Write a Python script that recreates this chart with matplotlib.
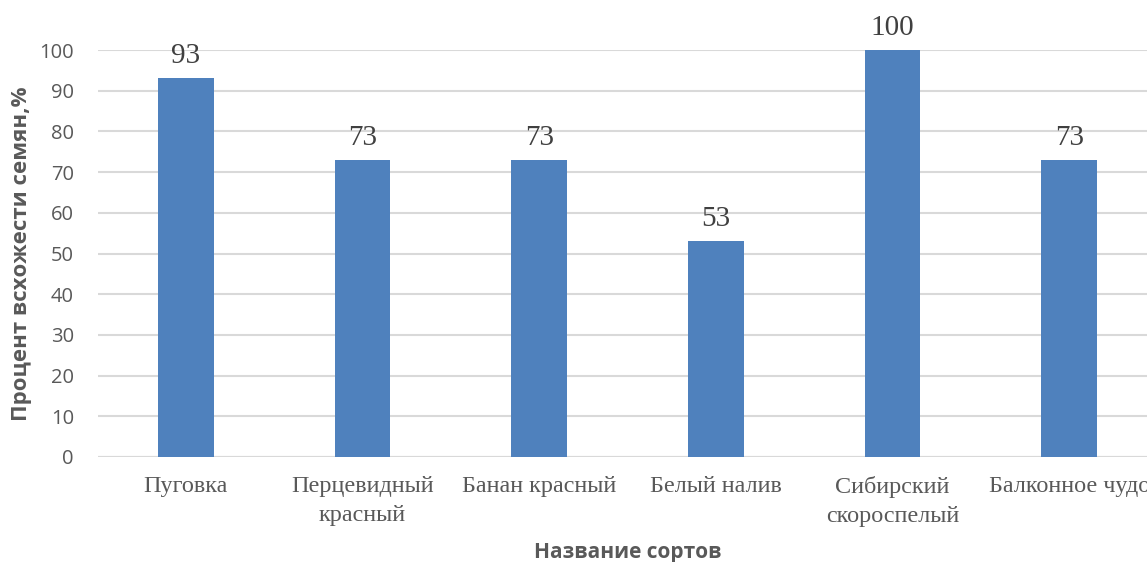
import matplotlib.pyplot as plt
import numpy as np

varieties = ['Пуговка', 'Перцевидный\nкрасный', 'Банан красный', 'Белый налив',
             'Сибирский\nскороспелый', 'Балконное чудо']
germination = [93, 73, 73, 53, 100, 73]
yticks = [0, 10, 20, 30, 40, 50, 60, 70, 80, 90, 100]

bar_color = '#4f81bd'
grid_color = '#d9d9d9'
text_gray = '#595959'

fig = plt.figure(figsize=(11.47, 5.62), dpi=100)
# plot area runs a little past the right edge of the figure
ax = fig.add_axes([97.5 / 1147, 105 / 562, 1060 / 1147, 407 / 562])

x = np.arange(len(varieties))
ax.bar(x, germination, width=0.316, color=bar_color, zorder=3)

for xi, v in zip(x, germination):
    ax.text(xi, v + 2.3, str(v), ha='center', va='bottom',
            fontsize=21, family='Liberation Serif', color='#404040')

ax.set_xlim(-0.5, len(varieties) - 0.5)
ax.set_ylim(0, 100)
ax.set_yticks(yticks)
ax.yaxis.grid(True, color=grid_color, linewidth=1.5, zorder=0)
ax.tick_params(axis='y', length=0, pad=17, labelsize=14.5, labelcolor=text_gray)
ax.tick_params(axis='x', length=0, pad=14, labelsize=17.4, labelcolor=text_gray)
for lab in ax.get_yticklabels():
    lab.set_family('Open Sans')

ax.set_xticks(x)
ax.set_xticklabels(varieties, family='Liberation Serif', linespacing=1.5)

for side in ['top', 'right', 'left', 'bottom']:
    ax.spines[side].set_visible(False)
ax.axhline(0, color=grid_color, linewidth=1.5, zorder=2)

ax.set_ylabel('Процент всхожести семян,%', fontsize=16, fontweight='bold',
              family='Open Sans', color=text_gray)
ax.set_xlabel('Название сортов', fontsize=15, fontweight='bold',
              family='Open Sans', color=text_gray)
ax.xaxis.set_label_coords(0.5, -0.21)
ax.yaxis.set_label_coords(-0.062, 0.5)

fig.savefig('out.png', dpi=100)
